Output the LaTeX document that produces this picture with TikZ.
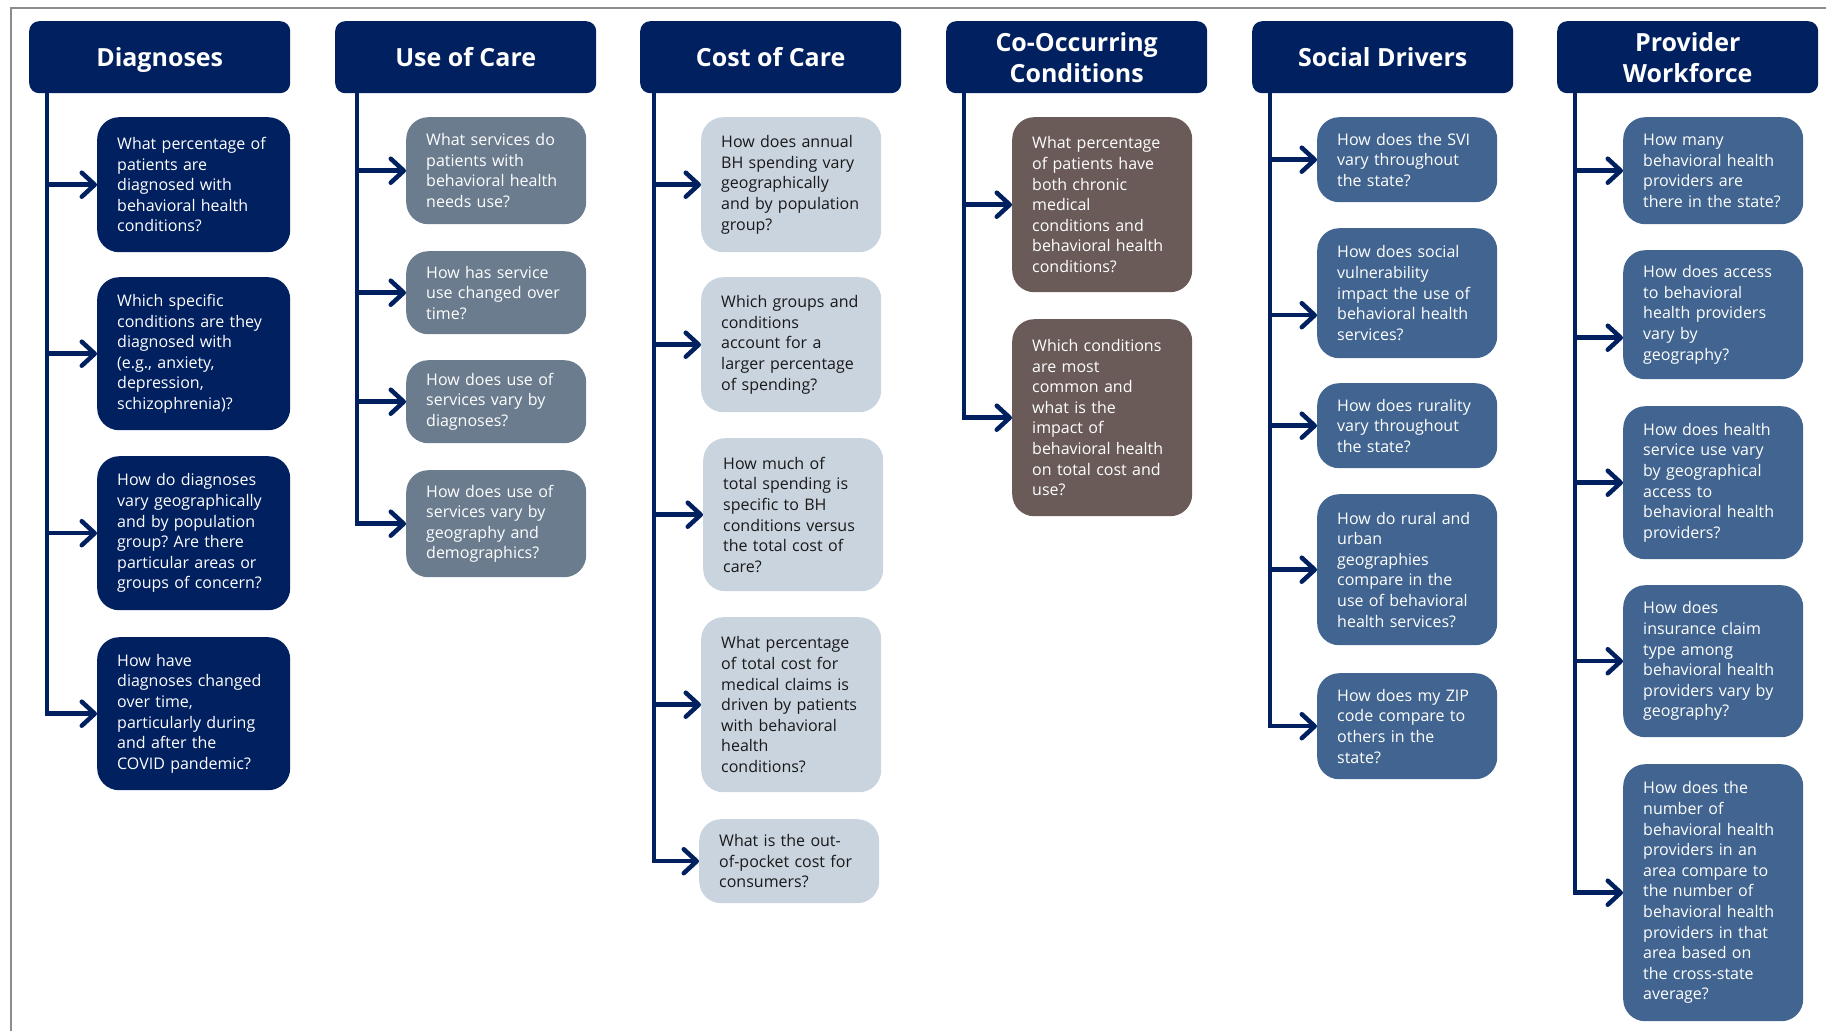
\documentclass[tikz,border=0pt]{standalone}
\usepackage{fontspec}
\setmainfont{Open Sans}
\usetikzlibrary{arrows.meta}
\definecolor{navy}{HTML}{002060}
\definecolor{slate}{HTML}{6A7C8E}
\definecolor{pale}{HTML}{CAD4DF}
\definecolor{mauve}{HTML}{6A5B58}
\definecolor{steel}{HTML}{416590}
\definecolor{framegray}{HTML}{8C8C8C}
\newcommand{\qfont}{\fontsize{16}{20.6}\selectfont\frenchspacing}
\newcommand{\hfont}{\fontsize{25}{31}\selectfont\bfseries}

\begin{document}
\begin{tikzpicture}[x=1pt, y=-1pt,
    head/.style={fill=navy, text=white, font=\hfont, align=center, rounded corners=10pt,
        minimum width=261pt, minimum height=72pt, inner sep=0pt, anchor=north west},
    onehead/.style={head, text height=18pt, text depth=0pt},
    qbox/.style={rounded corners=22pt, anchor=north west, align=left, font=\qfont,
        inner xsep=20pt, inner ysep=0pt, text width=140pt},
    diagq/.style={qbox, fill=navy, text=white, text width=153pt},
    useq/.style={qbox, fill=slate, text=white},
    costq/.style={qbox, fill=pale, text=black!90},
    coq/.style={qbox, fill=mauve, text=white},
    socq/.style={qbox, fill=steel, text=white},
    arr/.style={draw=navy, line width=4.5pt,
        -{Straight Barb[length=13pt, width=24pt, line width=4.5pt, round]}}]
\useasboundingbox (0,0) rectangle (1826,1031);
\draw[framegray, line width=1.5pt] (11,1031) -- (11,8) -- (1826,8);

% Diagnoses
\node[onehead] (dh) at (29,21) {Diagnoses};
\coordinate (dtop) at (47,93);
\node[diagq, minimum height=135pt] (d1) at (97,117) {What percentage of\\patients are\\diagnosed with\\behavioral health\\conditions?};
\node[diagq, minimum height=153pt] (d2) at (97,277) {Which specific\\conditions are they\\diagnosed with\\(e.g., anxiety,\\depression,\\schizophrenia)?};
\node[diagq, minimum height=154pt] (d3) at (97,456) {How do diagnoses\\vary geographically\\and by population\\group? Are there\\particular areas or\\groups of concern?};
\node[diagq, minimum height=153pt] (d4) at (97,637) {How have\\diagnoses changed\\over time,\\particularly during\\and after the\\COVID pandemic?};
\draw[arr] (dtop |- d1.west) -- (d1.west);
\draw[arr] (dtop |- d2.west) -- (d2.west);
\draw[arr] (dtop |- d3.west) -- (d3.west);
\draw[arr] (dtop) |- (d4.west);

% Use of Care
\node[onehead] (uh) at (335,21) {Use of Care};
\coordinate (utop) at (357,93);
\node[useq, minimum height=107pt] (u1) at (406,117) {What services do\\patients with\\behavioral health\\needs use?};
\node[useq, minimum height=83pt] (u2) at (406,251) {How has service\\use changed over\\time?};
\node[useq, minimum height=83pt] (u3) at (406,360) {How does use of\\services vary by\\diagnoses?};
\node[useq, minimum height=107pt] (u4) at (406,470) {How does use of\\services vary by\\geography and\\demographics?};
\draw[arr] (utop |- u1.west) -- (u1.west);
\draw[arr] (utop |- u2.west) -- (u2.west);
\draw[arr] (utop |- u3.west) -- (u3.west);
\draw[arr] (utop) |- (u4.west);

% Cost of Care
\node[onehead] (ch) at (640,21) {Cost of Care};
\coordinate (ctop) at (654,93);
\node[costq, minimum height=135pt] (c1) at (701,117) {How does annual\\BH spending vary\\geographically\\and by population\\group?};
\node[costq, minimum height=135pt] (c2) at (701,277) {Which groups and\\conditions\\account for a\\larger percentage\\of spending?};
\node[costq, minimum height=153pt] (c3) at (703,438) {How much of\\total spending is\\specific to BH\\conditions versus\\the total cost of\\care?};
\node[costq, minimum height=175pt] (c4) at (701,617) {What percentage\\of total cost for\\medical claims is\\driven by patients\\with behavioral\\health\\conditions?};
\node[costq, minimum height=84pt] (c5) at (699,819) {What is the out-\\of-pocket cost for\\consumers?};
\draw[arr] (ctop |- c1.west) -- (c1.west);
\draw[arr] (ctop |- c2.west) -- (c2.west);
\draw[arr] (ctop |- c3.west) -- (c3.west);
\draw[arr] (ctop |- c4.west) -- (c4.west);
\draw[arr] (ctop) |- (c5.west);

% Co-Occurring Conditions
\node[head] (oh) at (946,21) {Co-Occurring\\Conditions};
\coordinate (otop) at (964,93);
\node[coq, minimum height=175pt] (o1) at (1012,117) {What percentage\\of patients have\\both chronic\\medical\\conditions and\\behavioral health\\conditions?};
\node[coq, minimum height=197pt] (o2) at (1012,319) {Which conditions\\are most\\common and\\what is the\\impact of\\behavioral health\\on total cost and\\use?};
\draw[arr] (otop |- o1.west) -- (o1.west);
\draw[arr] (otop) |- (o2.west);

% Social Drivers
\node[onehead] (sh) at (1252,21) {Social Drivers};
\coordinate (stop) at (1270,93);
\node[socq, minimum height=85pt] (s1) at (1317,117) {How does the SVI\\vary throughout\\the state?};
\node[socq, minimum height=130pt] (s2) at (1317,228) {How does social\\vulnerability\\impact the use of\\behavioral health\\services?};
\node[socq, minimum height=85pt] (s3) at (1317,383) {How does rurality\\vary throughout\\the state?};
\node[socq, minimum height=151pt] (s4) at (1317,494) {How do rural and\\urban\\geographies\\compare in the\\use of behavioral\\health services?};
\node[socq, minimum height=106pt] (s5) at (1317,673) {How does my ZIP\\code compare to\\others in the\\state?};
\coordinate (s2in) at ([yshift=-22pt]s2.west);
\draw[arr] (stop |- s1.west) -- (s1.west);
\draw[arr] (stop |- s2in) -- (s2in);
\draw[arr] (stop |- s3.west) -- (s3.west);
\draw[arr] (stop |- s4.west) -- (s4.west);
\draw[arr] (stop) |- (s5.west);

% Provider Workforce
\node[head] (ph) at (1557,21) {Provider\\Workforce};
\coordinate (ptop) at (1575,93);
\node[socq, minimum height=107pt] (p1) at (1623,117) {How many\\behavioral health\\providers are\\there in the state?};
\node[socq, minimum height=129pt] (p2) at (1623,250) {How does access\\to behavioral\\health providers\\vary by\\geography?};
\node[socq, minimum height=153pt] (p3) at (1623,406) {How does health\\service use vary\\by geographical\\access to\\behavioral health\\providers?};
\node[socq, minimum height=152pt] (p4) at (1623,585) {How does\\insurance claim\\type among\\behavioral health\\providers vary by\\geography?};
\node[socq, minimum height=257pt] (p5) at (1623,764) {How does the\\number of\\behavioral health\\providers in an\\area compare to\\the number of\\behavioral health\\providers in that\\area based on\\the cross-state\\average?};
\coordinate (p2in) at ([yshift=-23pt]p2.west);
\draw[arr] (ptop |- p1.west) -- (p1.west);
\draw[arr] (ptop |- p2in) -- (p2in);
\draw[arr] (ptop |- p3.west) -- (p3.west);
\draw[arr] (ptop |- p4.west) -- (p4.west);
\draw[arr] (ptop) |- (p5.west);
\end{tikzpicture}
\end{document}
